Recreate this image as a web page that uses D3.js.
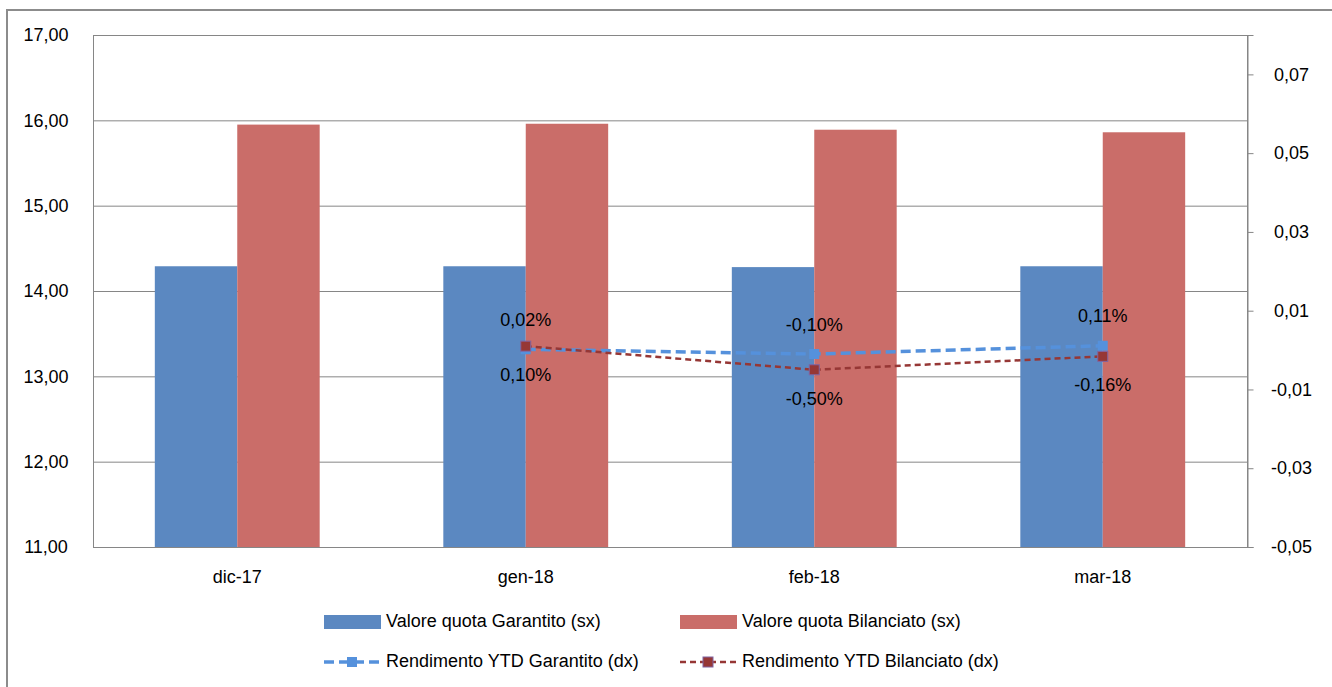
<!DOCTYPE html>
<html><head><meta charset="utf-8">
<script src="https://cdn.jsdelivr.net/npm/d3@7"></script>
<style>
body{margin:0;background:#fff;}
text{font-family:"Liberation Sans",Arial,sans-serif;fill:#000;}
</style></head>
<body><svg id="c" width="1332" height="687"></svg>
<script>
const categories = ["dic-17","gen-18","feb-18","mar-18"];
const valoreGarantito = [14.29, 14.29, 14.28, 14.29];
const valoreBilanciato = [15.95, 15.96, 15.89, 15.86];
const lineCategories = ["gen-18","feb-18","mar-18"];
const rendGarantito = [0.0002, -0.0010, 0.0011];
const rendBilanciato = [0.0010, -0.0050, -0.0016];
const leftTicks = [11,12,13,14,15,16,17];
const rightTicks = [-0.05,-0.03,-0.01,0.01,0.03,0.05,0.07];
const legendLabels = ["Valore quota Garantito (sx)","Valore quota Bilanciato (sx)","Rendimento YTD Garantito (dx)","Rendimento YTD Bilanciato (dx)"];

const colBlue = "#5B88C1", colRed = "#CA6D69", lineBlue = "#5591DC", lineRed = "#963735";
const FS = "18px";
const svg = d3.select("#c");
const L = 93, R = 1247, T = 35, B = 547;
const fix = s => s.replace("\u2212","-").replace(".", ",");
const fmt2 = v => fix(d3.format(".2f")(v));
const pct = v => fix(d3.format(".2f")(v*100)) + "%";

// outer border
svg.append("rect").attr("x",7).attr("y",10).attr("width",1340).attr("height",700)
  .attr("fill","none").attr("stroke","#8c8c8c").attr("stroke-width",2);

const x = d3.scaleBand().domain(categories).range([L,R]).paddingInner(0).paddingOuter(0);
const xi = d3.scaleBand().domain(["G","B"]).range([0,x.bandwidth()]).paddingInner(0).paddingOuter(0.75);
const yL = d3.scaleLinear().domain([11,17]).range([B,T]);
const yR = d3.scaleLinear().domain([-0.05,0.08]).range([B,T]);

// gridlines
svg.append("g").selectAll("line").data(leftTicks.slice(1)).join("line")
  .attr("x1",L).attr("x2",R).attr("y1",d=>yL(d)+0.5).attr("y2",d=>yL(d)+0.5)
  .attr("stroke","#868686").attr("stroke-width",1);

// bars
const g = svg.append("g");
g.selectAll(".bg").data(valoreGarantito).join("rect")
  .attr("x",(d,i)=>x(categories[i])+xi("G")).attr("width",xi.bandwidth())
  .attr("y",d=>yL(d)).attr("height",d=>B-yL(d)).attr("fill",colBlue);
g.selectAll(".bb").data(valoreBilanciato).join("rect")
  .attr("x",(d,i)=>x(categories[i])+xi("B")).attr("width",xi.bandwidth())
  .attr("y",d=>yL(d)).attr("height",d=>B-yL(d)).attr("fill",colRed);

// plot border
svg.append("rect").attr("x",L+0.5).attr("y",T+0.5).attr("width",R-L).attr("height",B-T)
  .attr("fill","none").attr("stroke","#868686").attr("stroke-width",1);

// left axis labels
const axL = d3.axisLeft(yL).tickValues(leftTicks).tickSize(0).tickFormat(fmt2);
const gL = svg.append("g").attr("transform",`translate(${L},0)`).call(axL);
gL.select(".domain").remove();
gL.selectAll("text").attr("x",-47).attr("text-anchor","middle").style("font-size",FS).style("font-family","Liberation Sans");

// right axis
const axR = d3.axisRight(yR).tickValues(rightTicks).tickSize(6).tickFormat(fmt2);
const gR = svg.append("g").attr("transform",`translate(${R+0.5},0)`).call(axR);
gR.select(".domain").attr("stroke","#868686");
gR.selectAll("line").attr("stroke","#868686");
gR.selectAll("text").attr("x",44).attr("text-anchor","middle").style("font-size",FS).style("font-family","Liberation Sans");

// bottom category labels
const axB = d3.axisBottom(x).tickSize(0).tickPadding(23);
const gB = svg.append("g").attr("transform",`translate(0,${B})`).call(axB);
gB.select(".domain").remove();
gB.selectAll("text").style("font-size",FS).style("font-family","Liberation Sans");

// lines
const cx = c => x(c)+x.bandwidth()/2;
const lineG = d3.line().x((d,i)=>cx(lineCategories[i])).y(d=>yR(d));
svg.append("path").datum(rendGarantito).attr("d",lineG).attr("fill","none")
  .attr("stroke",lineBlue).attr("stroke-width",3.5).attr("stroke-dasharray","10,5");
svg.append("path").datum(rendBilanciato).attr("d",lineG).attr("fill","none")
  .attr("stroke",lineRed).attr("stroke-width",2.5).attr("stroke-dasharray","6,4");
svg.selectAll(".mg").data(rendGarantito).join("rect")
  .attr("x",(d,i)=>cx(lineCategories[i])-5).attr("y",d=>yR(d)-5).attr("width",10).attr("height",10)
  .attr("fill",lineBlue);
svg.selectAll(".mb").data(rendBilanciato).join("rect")
  .attr("x",(d,i)=>cx(lineCategories[i])-5).attr("y",d=>yR(d)-5).attr("width",10).attr("height",10)
  .attr("fill",lineRed).attr("stroke","#8064A2").attr("stroke-width",1);

// data labels
svg.selectAll(".lg").data(rendGarantito).join("text")
  .attr("x",(d,i)=>cx(lineCategories[i])).attr("y",d=>yR(d)-28)
  .attr("text-anchor","middle").attr("dominant-baseline","middle").style("font-size",FS).text(pct);
svg.selectAll(".lb").data(rendBilanciato).join("text")
  .attr("x",(d,i)=>cx(lineCategories[i])).attr("y",d=>yR(d)+30)
  .attr("text-anchor","middle").attr("dominant-baseline","middle").style("font-size",FS).text(pct);

// legend
const leg = svg.append("g");
const lx = [324, 680], ly = [622, 662];
[[0,0],[1,0],[0,1],[1,1]].forEach(([c,r],k)=>{
  const x0 = lx[c], y0 = ly[r];
  if(r===0){
    leg.append("rect").attr("x",x0).attr("y",y0-7).attr("width",57).attr("height",14).attr("fill",k===0?colBlue:colRed);
  } else {
    const col = c===0?lineBlue:lineRed;
    leg.append("line").attr("x1",x0).attr("x2",x0+57).attr("y1",y0).attr("y2",y0)
      .attr("stroke",col).attr("stroke-width",c===0?3.5:2.5).attr("stroke-dasharray",c===0?"10,5":"6,4");
    if(c===0) leg.append("rect").attr("x",x0+23).attr("y",y0-5).attr("width",10).attr("height",10).attr("fill",col);
    else leg.append("rect").attr("x",x0+23).attr("y",y0-5).attr("width",10).attr("height",10).attr("fill",col).attr("stroke","#8064A2");
  }
  leg.append("text").attr("x",x0+62).attr("y",y0).attr("dominant-baseline","middle")
    .style("font-size",FS).text(legendLabels[k]);
});
</script></body></html>
